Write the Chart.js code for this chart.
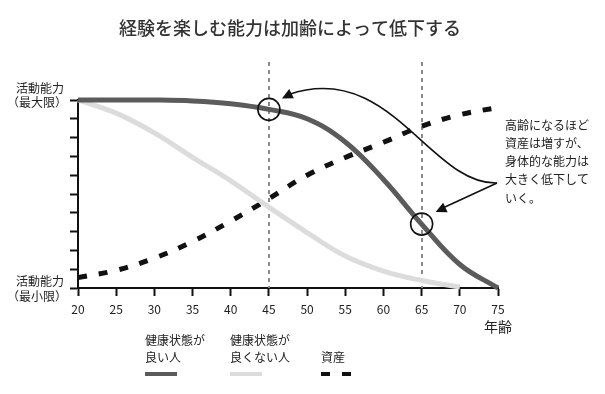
<!DOCTYPE html>
<html>
<head>
<meta charset="utf-8">
<script src="https://cdn.jsdelivr.net/npm/chart.js@4/dist/chart.umd.min.js"></script>
<style>
  html, body { margin: 0; padding: 0; background: #fff; }
  #wrap { width: 605px; height: 394px; }
</style>
</head>
<body>
<div id="wrap"><canvas id="chart" width="605" height="394"></canvas></div>
<script>
const titleText = '経験を楽しむ能力は加齢によって低下する';
const ages = [20, 25, 30, 35, 40, 45, 50, 55, 60, 65, 70, 75];
const goodHealth = [100, 100, 100, 99.5, 98, 95, 90, 77.7, 57.7, 34, 12.5, 0];
const poorHealth = [100, 93, 82.5, 69.5, 57, 43, 29.5, 17, 9, 4, 0.5];
const assets = [5.5, 9.4, 15.9, 24.7, 35.6, 47.5, 60, 69.4, 77.5, 86, 92.2, 96];
const seriesLabels = ['健康状態が\n良い人', '健康状態が\n良くない人', '資産'];
const markedAges = [45, 65];
const noteLines = ['高齢になるほど', '資産は増すが、', '身体的な能力は', '大きく低下して', 'いく。'];
const xTitle = '年齢';
const yTopLabel = ['活動能力', '（最大限）'];
const yBottomLabel = ['活動能力', '（最小限）'];

const FONT = '"Noto Sans CJK JP", "Noto Sans", sans-serif';

function toPoints(values) {
  return values.map((v, i) => ({ x: ages[i], y: v }));
}

function arrowHead(ctx, tipX, tipY, fromX, fromY, size) {
  const ang = Math.atan2(tipY - fromY, tipX - fromX);
  ctx.beginPath();
  ctx.moveTo(tipX, tipY);
  ctx.lineTo(tipX - size * Math.cos(ang - 0.45), tipY - size * Math.sin(ang - 0.45));
  ctx.lineTo(tipX - size * Math.cos(ang + 0.45), tipY - size * Math.sin(ang + 0.45));
  ctx.closePath();
  ctx.fill();
}

const extras = {
  id: 'extras',
  beforeDatasetsDraw(chart) {
    const { ctx, scales: { x }, chartArea } = chart;
    ctx.save();
    ctx.strokeStyle = '#8a8a8a';
    ctx.lineWidth = 2;
    ctx.setLineDash([4, 4]);
    markedAges.forEach(age => {
      const px = Math.round(x.getPixelForValue(age));
      ctx.beginPath();
      ctx.moveTo(px, chartArea.top - 38);
      ctx.lineTo(px, chartArea.bottom);
      ctx.stroke();
    });
    ctx.restore();
  },
  afterDraw(chart) {
    const { ctx, scales: { x, y }, chartArea } = chart;
    ctx.save();

    // title
    ctx.fillStyle = '#333';
    ctx.font = '500 18px ' + FONT;
    ctx.textAlign = 'center';
    ctx.textBaseline = 'middle';
    ctx.fillText(titleText, 290, 28);

    // y end labels
    ctx.fillStyle = '#222';
    ctx.font = '12px ' + FONT;
    ctx.textAlign = 'right';
    const topY = y.getPixelForValue(100);
    const botY = y.getPixelForValue(0);
    ctx.fillText(yTopLabel[0], 64, topY - 12);
    ctx.fillText(yTopLabel[1], 67, topY + 2);
    ctx.fillText(yBottomLabel[0], 64, botY - 7);
    ctx.fillText(yBottomLabel[1], 67, botY + 8);

    // circles on the good-health curve
    const circles = markedAges.map(age => {
      const i = ages.indexOf(age);
      return { cx: x.getPixelForValue(age), cy: y.getPixelForValue(goodHealth[i]) };
    });
    ctx.strokeStyle = '#111';
    ctx.lineWidth = 1.6;
    circles.forEach(c => {
      ctx.beginPath();
      ctx.arc(c.cx, c.cy, 11, 0, Math.PI * 2);
      ctx.stroke();
    });

    // arrows from the note
    const sx = chartArea.right - 1;
    const sy = 183;
    const c1 = circles[0];
    const c2 = circles[1];
    const t1x = c1.cx + 13, t1y = c1.cy - 11;
    ctx.lineWidth = 1.6;
    ctx.fillStyle = '#111';
    ctx.beginPath();
    ctx.moveTo(sx, sy);
    ctx.bezierCurveTo(430, 185, 390, 60, t1x + 7, t1y - 4);
    ctx.stroke();
    arrowHead(ctx, t1x, t1y, t1x + 12, t1y - 6, 12);

    const t2x = c2.cx + 14, t2y = c2.cy - 12;
    ctx.beginPath();
    ctx.moveTo(sx, sy);
    ctx.lineTo(t2x + 5, t2y - 3);
    ctx.stroke();
    arrowHead(ctx, t2x, t2y, sx, sy, 12);

    // note text
    ctx.fillStyle = '#222';
    ctx.font = '12px ' + FONT;
    ctx.textAlign = 'left';
    noteLines.forEach((line, i) => {
      ctx.fillText(line, chartArea.right + 7, 125 + i * 18.3);
    });

    // x axis title
    ctx.font = '14px ' + FONT;
    ctx.textAlign = 'center';
    ctx.fillText(xTitle, chartArea.right, 327);

    // legend
    const legendX = [145, 230, 321];
    ctx.font = '12px ' + FONT;
    ctx.textAlign = 'left';
    chart.data.datasets.forEach((ds, i) => {
      const lines = seriesLabels[i].split('\n');
      lines.forEach((line, j) => {
        const ly = 357 - (lines.length - 1 - j) * 17;
        ctx.fillText(line, legendX[i], ly);
      });
      ctx.strokeStyle = ds.borderColor;
      ctx.lineWidth = 4;
      ctx.setLineDash(ds.borderDash || []);
      ctx.beginPath();
      ctx.moveTo(legendX[i], 374);
      ctx.lineTo(legendX[i] + 32, 374);
      ctx.stroke();
    });
    ctx.restore();
  }
};

new Chart(document.getElementById('chart'), {
  type: 'line',
  data: {
    datasets: [
      {
        label: seriesLabels[0],
        data: toPoints(goodHealth),
        borderColor: '#5b5b5b',
        borderWidth: 5,
        tension: 0.4,
        pointRadius: 0,
        clip: false
      },
      {
        label: seriesLabels[1],
        data: toPoints(poorHealth),
        borderColor: '#dcdcdc',
        borderWidth: 5,
        tension: 0.4,
        pointRadius: 0,
        clip: false
      },
      {
        label: seriesLabels[2],
        data: toPoints(assets),
        borderColor: '#111',
        borderWidth: 5,
        borderDash: [9, 12],
        borderCapStyle: 'butt',
        tension: 0.4,
        pointRadius: 0,
        clip: false
      }
    ]
  },
  options: {
    responsive: false,
    animation: false,
    layout: { padding: { top: 100, right: 107, left: 0, bottom: 0 } },
    plugins: {
      legend: { display: false },
      title: { display: false },
      tooltip: { enabled: false }
    },
    scales: {
      x: {
        type: 'linear',
        min: 20,
        max: 75,
        afterFit: scale => { scale.height = 106; },
        ticks: { stepSize: 5, color: '#222', padding: 6, autoSkip: false, font: { family: FONT, size: 12 } },
        grid: { drawOnChartArea: false, tickLength: 8, tickColor: '#111', tickWidth: 2 },
        border: { color: '#111', width: 2 }
      },
      y: {
        min: 0,
        max: 100,
        afterFit: scale => { scale.width = 78; },
        ticks: {
          stepSize: 10,
          autoSkip: false,
          font: { family: FONT, size: 11 },
          callback: () => ''
        },
        grid: { drawOnChartArea: false, tickLength: 8, tickColor: '#111', tickWidth: 2 },
        border: { color: '#111', width: 2 }
      }
    }
  },
  plugins: [extras]
});
</script>
</body>
</html>
